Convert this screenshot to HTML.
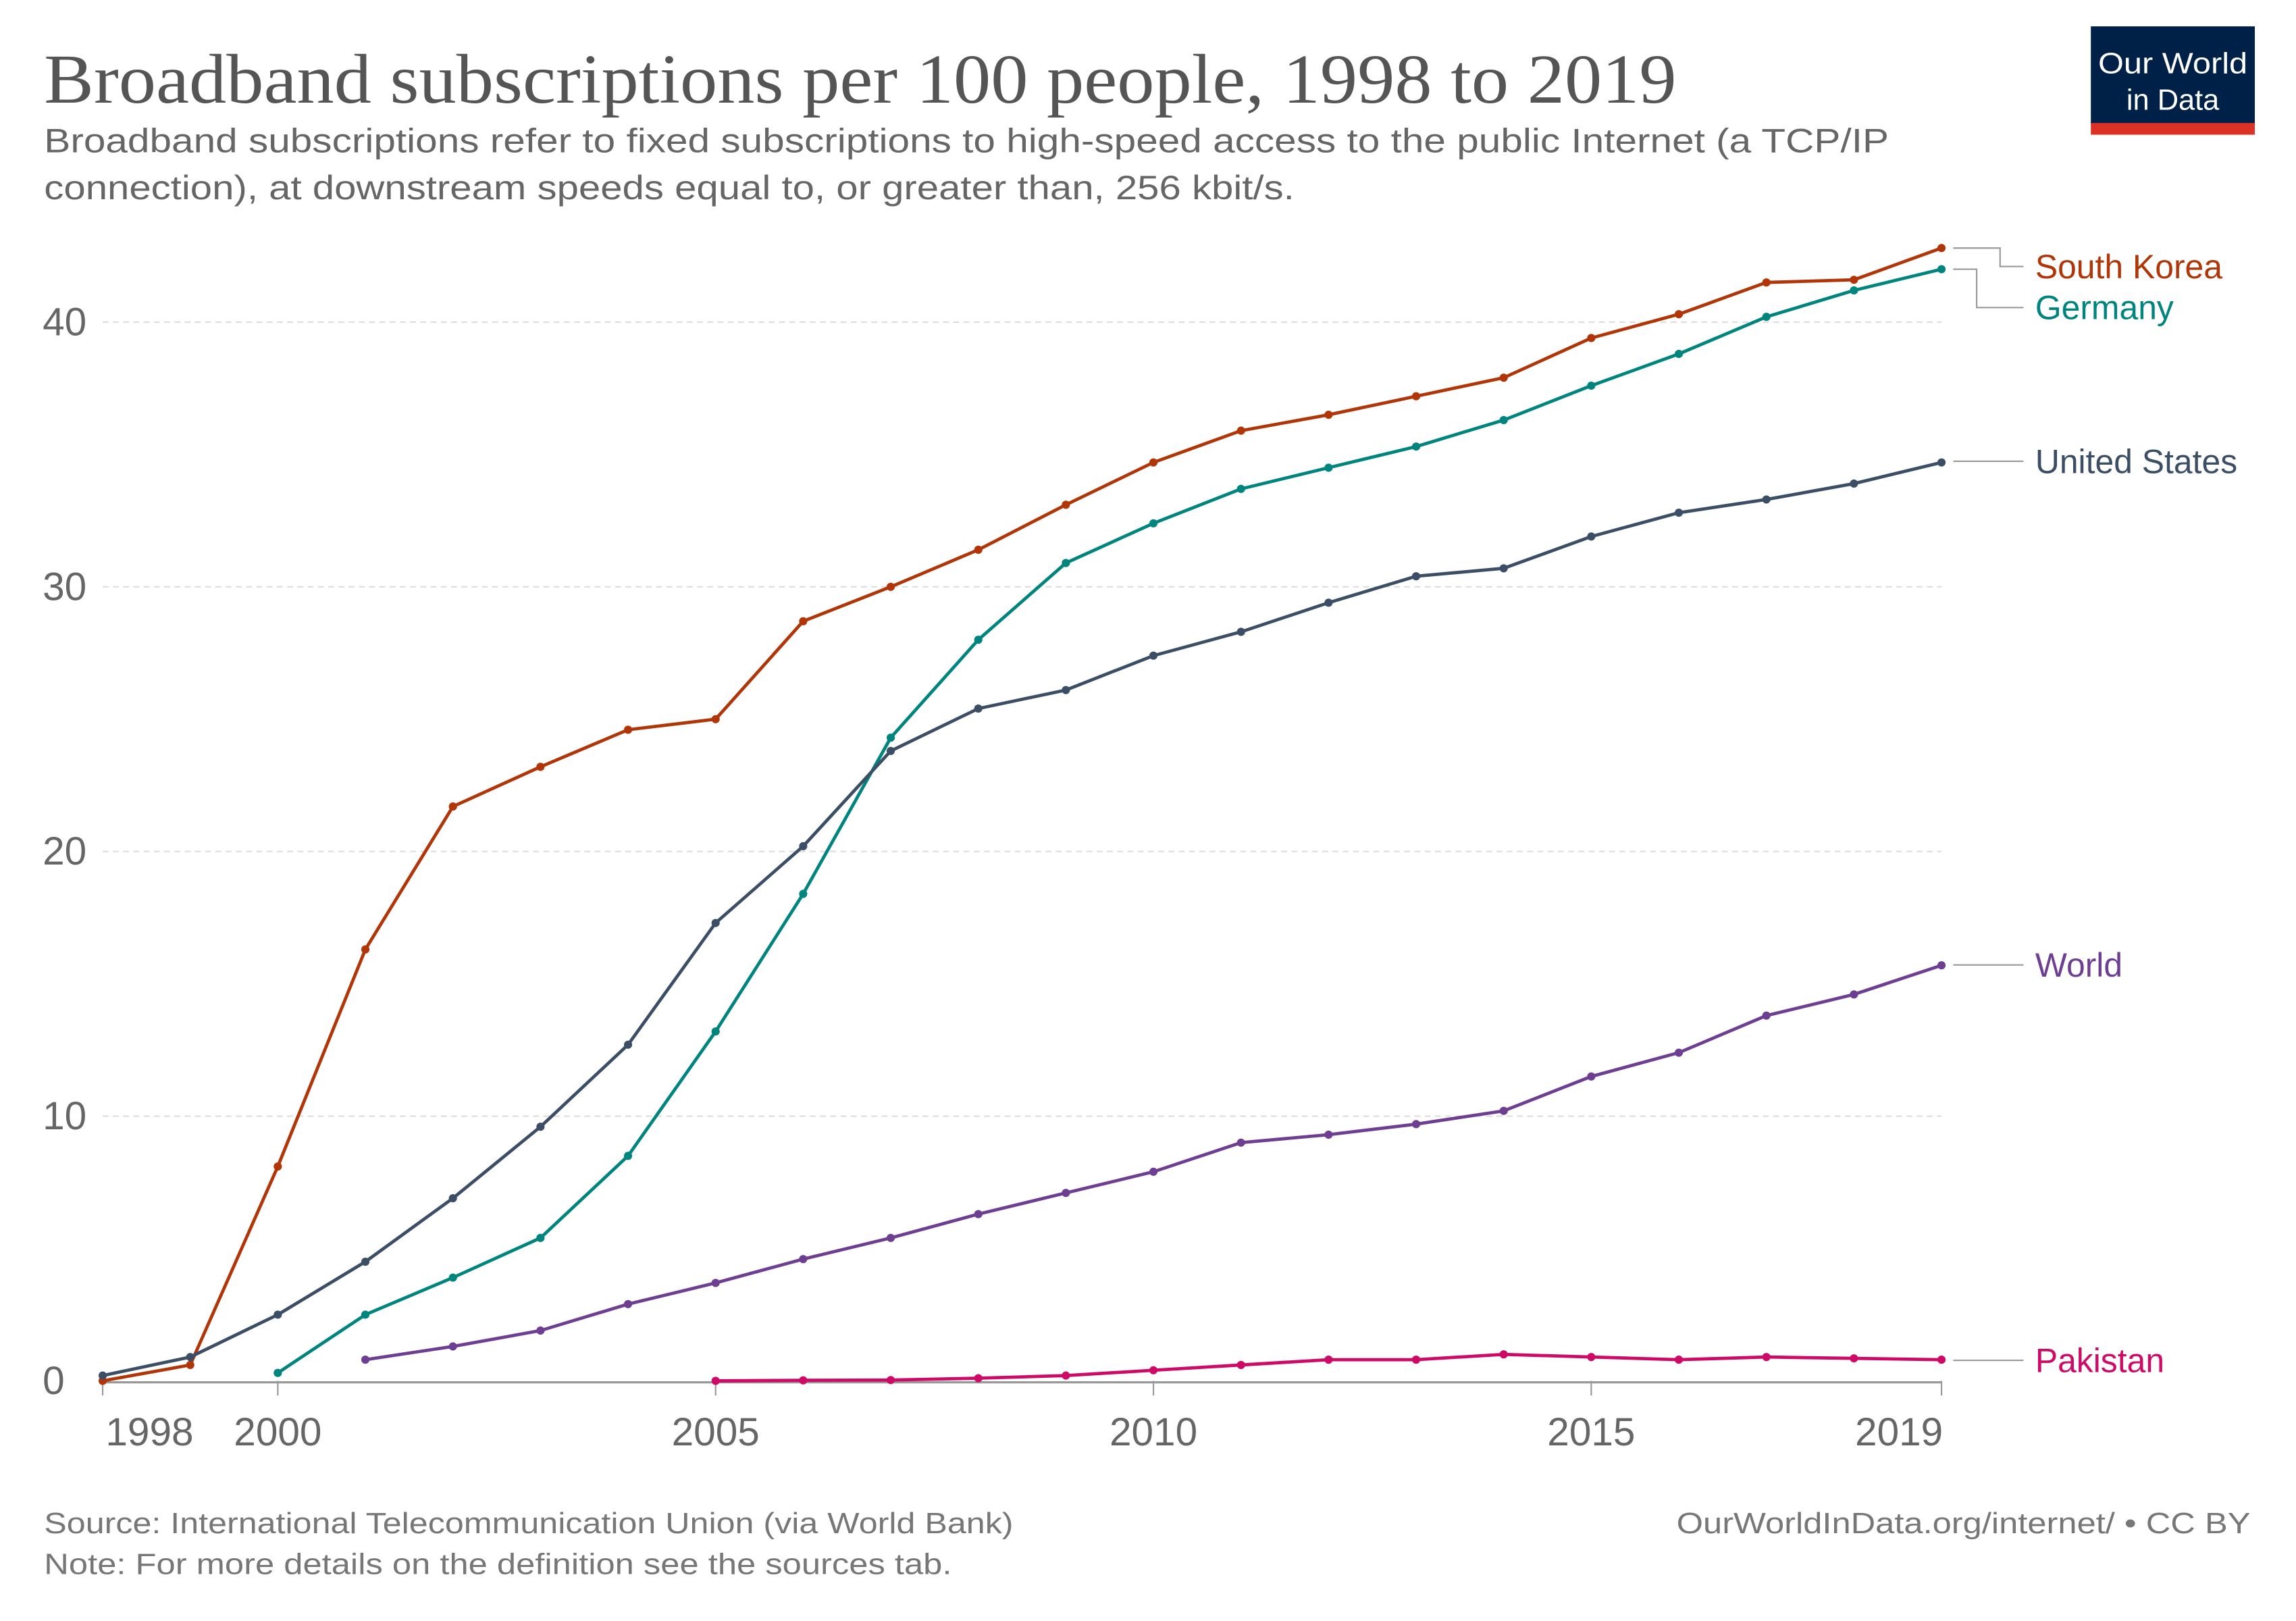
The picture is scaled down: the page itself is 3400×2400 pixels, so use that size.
<!DOCTYPE html>
<html><head><meta charset="utf-8"><style>
html,body{margin:0;padding:0;background:#fff}
svg{display:block}
</style></head><body>
<svg id="chart" width="3400" height="2400" viewBox="0 0 1568 1107" xmlns="http://www.w3.org/2000/svg" font-family="'Liberation Sans', sans-serif">
<text x="30" y="70" font-family="'Liberation Serif', serif" font-size="48" fill="#555" textLength="1115" lengthAdjust="spacingAndGlyphs">Broadband subscriptions per 100 people, 1998 to 2019</text>
<text x="30" y="104" font-size="23" fill="#666" textLength="1260" lengthAdjust="spacingAndGlyphs">Broadband subscriptions refer to fixed subscriptions to high-speed access to the public Internet (a TCP/IP</text>
<text x="30" y="136" font-size="23" fill="#666" textLength="854" lengthAdjust="spacingAndGlyphs">connection), at downstream speeds equal to, or greater than, 256 kbit/s.</text>
<g>
<rect x="1428" y="18" width="112" height="67" fill="#002147"/>
<rect x="1428" y="84" width="112" height="8" fill="#dc3226"/>
<text x="1484" y="50" text-anchor="middle" font-size="20" fill="#fff" textLength="102" lengthAdjust="spacingAndGlyphs">Our World</text>
<text x="1484" y="75" text-anchor="middle" font-size="20" fill="#fff">in Data</text>
</g>
<g id="grid"></g><g id="axes"></g><g id="series"></g><g id="legend"></g>
<text x="30" y="1047" font-size="20" fill="#777" textLength="662" lengthAdjust="spacingAndGlyphs">Source: International Telecommunication Union (via World Bank)</text>
<text x="30" y="1075" font-size="20" fill="#777" textLength="620" lengthAdjust="spacingAndGlyphs">Note: For more details on the definition see the sources tab.</text>
<text x="1145" y="1047" font-size="20" fill="#777" textLength="392" lengthAdjust="spacingAndGlyphs">OurWorldInData.org/internet/ • CC BY</text>
</svg>
<script>
const years = [1998,1999,2000,2001,2002,2003,2004,2005,2006,2007,2008,2009,2010,2011,2012,2013,2014,2015,2016,2017,2018,2019];
const southKorea = [0.0,0.6,8.1,16.3,21.7,23.2,24.6,25.0,28.7,30.0,31.4,33.1,34.7,35.9,36.5,37.2,37.9,39.4,40.3,41.5,41.6,42.8];
const germany = [null,null,0.3,2.5,3.9,5.4,8.5,13.2,18.4,24.3,28.0,30.9,32.4,33.7,34.5,35.3,36.3,37.6,38.8,40.2,41.2,42.0];
const unitedStates = [0.2,0.9,2.5,4.5,6.9,9.6,12.7,17.3,20.2,23.8,25.4,26.1,27.4,28.3,29.4,30.4,30.7,31.9,32.8,33.3,33.9,34.7];
const world = [null,null,null,0.8,1.3,1.9,2.9,3.7,4.6,5.4,6.3,7.1,7.9,9.0,9.3,9.7,10.2,11.5,12.4,13.8,14.6,15.7];
const pakistan = [null,null,null,null,null,null,null,0.0,0.02,0.03,0.1,0.2,0.4,0.6,0.8,0.8,1.0,0.9,0.8,0.9,0.85,0.8];
const yTicks = [0,10,20,30,40];
const xTicks = [1998,2000,2005,2010,2015,2019];
const seriesNames = ["South Korea","Germany","United States","World","Pakistan"];

const NS="http://www.w3.org/2000/svg";
const X0=70,X1=1326,Y0=943,Y40=220;
const x=v=>X0+(v-1998)*(X1-X0)/(2019-1998);
const y=v=>Y0-v*(Y0-Y40)/40;
function mk(tag,attrs,parent){const e=document.createElementNS(NS,tag);for(const k in attrs)e.setAttribute(k,attrs[k]);parent.appendChild(e);return e;}
const grid=document.getElementById('grid'),axes=document.getElementById('axes'),ser=document.getElementById('series'),leg=document.getElementById('legend');
yTicks.forEach(t=>{
  if(t>0){const l=mk('line',{x1:X0,x2:X1,y1:y(t),y2:y(t),stroke:'#ddd','stroke-dasharray':'4,3','stroke-width':1},grid);
  
  }
  const tx=mk('text',{x:29,y:y(t)+9,'font-size':27,fill:'#666'},axes);tx.textContent=t;
  
  
});
const ax=mk('line',{x1:X0,x2:X1,y1:Y0+1,y2:Y0+1,stroke:'#999','stroke-width':1.5},axes);


xTicks.forEach(t=>{
  const tk=mk('line',{x1:x(t),x2:x(t),y1:Y0,y2:Y0+10,stroke:'#999','stroke-width':1},axes);
  
  
  const anchor=t===1998?'start':(t===2019?'end':'middle');
  const tx=mk('text',{x:t===1998?x(t)+2:(t===2019?x(t)+1:x(t)),y:987,'font-size':27,fill:'#666','text-anchor':anchor},axes);tx.textContent=t;
  
  
});
const data=[southKorea,germany,unitedStates,world,pakistan];
const colors=['#b13507','#00847e','#3c4e66','#6d3e91','#cf0a66'];
const labelY=[190,218,323,667,937];
data.forEach((arr,i)=>{
  const g=mk('g',{},ser);
  
  
  const pts=[];years.forEach((yr,j)=>{if(arr[j]!==null)pts.push([x(yr),y(arr[j])]);});
  mk('polyline',{points:pts.map(p=>p.join(',')).join(' '),fill:'none',stroke:colors[i],'stroke-width':2.2},g);
  pts.forEach(p=>{const c=mk('circle',{cx:p[0],cy:p[1],r:2.8,fill:colors[i]},g);
    
    });
  const last=pts[pts.length-1];
  let d;
  if(i===0) d=`M${X1+8},${last[1]} H1366 V${labelY[i]-8} H1382`;
  else if(i===1) d=`M${X1+8},${last[1]} H1350 V${labelY[i]-8} H1382`;
  else d=`M${X1+8},${labelY[i]-8} H1382`;
  mk('path',{d:d,fill:'none',stroke:'#999','stroke-width':1},leg);
  const lt=mk('text',{x:1390,y:labelY[i],'font-size':23,fill:colors[i]},leg);lt.textContent=seriesNames[i];
  
  
});
</script>
</body></html>
